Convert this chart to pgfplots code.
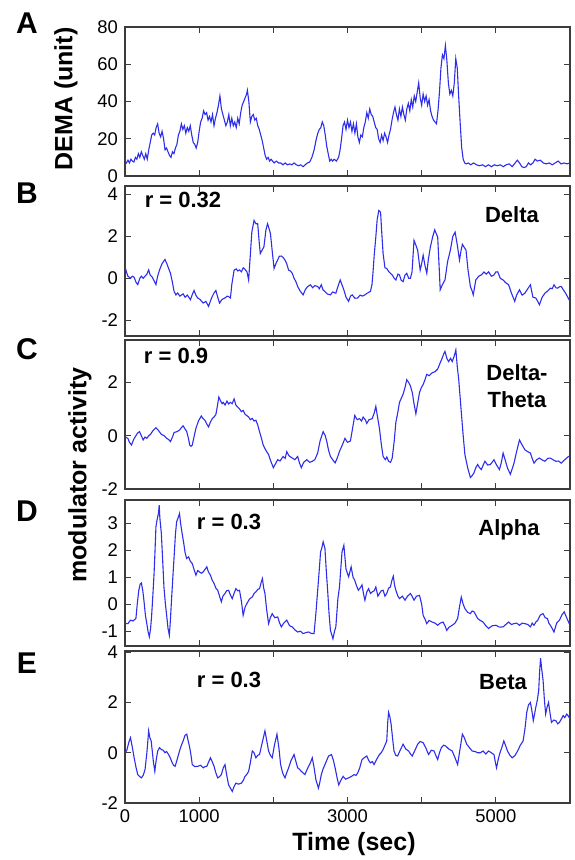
\documentclass[border=0pt]{standalone}
\usepackage{pgfplots}
\pgfplotsset{compat=1.18}
\usepackage{fontspec}
\setmainfont{Liberation Sans}
\definecolor{tracecol}{RGB}{45,45,235}
\definecolor{framecol}{RGB}{60,60,60}
\pgfplotsset{
  panel/.style={
    scale only axis, width=222.5pt, xmin=0, xmax=6000,
    xtick={0,1000,...,6000}, xticklabels={},
    axis line style={framecol, line width=0.7pt},
    every tick/.style={framecol, line width=0.6pt},
    major tick length=3pt,
    tick label style={font=\fontsize{9.2}{9.2}\selectfont},
    anchor=north west,
  },
  sig/.style={tracecol, line width=0.55pt, no marks}
}
\newcommand{\ann}{\fontsize{11}{13}\selectfont\bfseries}
\newcommand{\plet}{\fontsize{15}{17}\selectfont\bfseries}
\newcommand{\lab}{\fontsize{12.5}{14}\selectfont\bfseries}
\begin{document}
\begin{tikzpicture}
\useasboundingbox (0,0) rectangle (287pt,-430pt);
% ---------------- A
\begin{axis}[panel, at={(62.5pt,-13.5pt)}, height=74.5pt, ymin=0, ymax=80,
  ytick={0,20,40,60,80}, yticklabels={0,20,40,60,80}]
\addplot[sig] table {
0 8
20 7
40 8.5
60 7
80 9
100 8
120 7.5
140 10
160 9
180 12
200 10
220 13
240 11
260 9
280 12
300 9
320 14
340 18
360 22
380 23
400 22
420 26
440 28
460 23
480 21
500 24
520 20
540 14
560 15
580 13
600 11
620 10
640 13
660 12
680 15
700 17
720 22
740 24
760 28
780 25
800 27
820 23
840 26
860 24
880 27
900 22
920 18
940 17
960 15
980 18
1000 24
1020 29
1040 31
1060 35
1080 33
1100 34
1120 30
1140 32
1160 29
1180 33
1200 27
1220 31
1240 34
1260 38
1280 43
1300 36
1320 33
1340 30
1360 27
1380 29
1400 33
1420 27
1440 31
1460 27
1480 29
1500 26
1520 31
1540 28
1560 34
1580 38
1600 40
1620 42
1640 44
1650 46
1670 40
1690 29
1710 32
1730 33
1750 30
1770 31
1790 27
1810 25
1830 22
1850 19
1870 15
1890 11
1910 9
1930 10
1950 8
1970 9
1990 8
2010 7
2040 8
2070 7
2100 7
2130 6
2160 7
2190 6
2220 6.5
2250 6
2280 7
2310 6
2340 5.5
2370 6
2400 5
2430 6
2460 7
2490 7.5
2520 10
2550 14
2580 20
2600 23
2620 25
2640 26
2660 29
2680 27
2700 22
2720 16
2740 12
2760 8
2780 9
2800 8
2820 9
2850 8
2880 10
2900 14
2920 20
2940 27
2960 29
2980 25
3000 30
3020 26
3040 29
3060 24
3080 28
3100 23
3120 28
3140 21
3160 18
3180 22
3200 21
3220 26
3240 29
3260 34
3280 31
3300 36
3320 33
3340 32
3360 29
3380 26
3400 25
3420 20
3440 18
3460 22
3480 19
3500 23
3520 21
3540 18
3560 22
3580 25
3600 30
3620 34
3640 37
3660 33
3680 30
3700 36
3720 32
3740 37
3760 33
3780 30
3800 36
3820 39
3840 35
3860 41
3880 37
3900 43
3920 40
3940 45
3960 50
3980 42
4000 38
4020 44
4040 40
4060 43
4080 38
4100 41
4120 35
4140 32
4160 30
4180 29
4200 28
4220 35
4240 45
4260 58
4280 65
4300 63
4320 70
4340 62
4360 50
4380 44
4400 46
4420 43
4440 50
4460 63
4480 58
4500 42
4520 28
4540 15
4560 9
4580 7
4600 6.5
4630 7
4660 6
4700 7
4740 6
4780 5.5
4820 6
4860 5
4900 6
4940 5
4980 6
5020 5.5
5060 6
5100 5
5140 6
5180 6.5
5220 5
5260 7
5290 8.5
5320 7
5350 5
5380 4.5
5410 5
5440 7
5470 6
5500 7
5530 9
5560 8
5600 8.5
5640 7
5680 6.5
5720 7
5760 6
5800 7
5840 8
5880 6.5
5920 7
5960 6.5
6000 7
};
\end{axis}
% ---------------- B
\begin{axis}[panel, at={(62.5pt,-93pt)}, height=75pt, ymin=-2.75, ymax=4.4,
  ytick={-2,0,2,4}, yticklabels={-2,0,2,4}]
\addplot[sig] table {
0 0.55
20 0.3
39 0.1
60 0.05
74 0
100 0.1
123 0.05
150 -0.2
172 -0.3
200 0
221 0.1
245 0
270 0.1
295 0.2
319 0.4
340 0.15
368 0.05
390 -0.1
417 -0.3
440 0.1
466 0.4
500 0.7
539 0.9
564 0.7
590 0.45
613 0.24
640 -0.2
660 -0.6
686 -0.79
710 -0.7
740 -0.85
784 -0.74
810 -0.9
840 -0.8
882 -1.02
910 -0.75
931 -0.58
955 -0.8
980 -0.94
1010 -1.0
1054 -1.18
1090 -1.1
1127 -1.34
1150 -1.1
1176 -0.87
1200 -0.7
1225 -0.58
1250 -0.9
1275 -1.18
1310 -1.0
1348 -0.94
1375 -0.85
1397 -0.87
1422 -0.94
1440 -0.3
1471 0.39
1500 0.45
1520 0.35
1545 0.4
1569 0.31
1595 0.5
1618 0.43
1645 0.3
1667 -0.08
1680 0.6
1691 1.18
1710 2.2
1740 2.76
1765 2.6
1789 2.6
1810 1.7
1824 1.18
1850 1.35
1873 1.5
1900 2.3
1922 2.6
1940 2.4
1961 2.13
1985 1.3
2010 0.47
2035 0.7
2059 0.87
2080 1.05
2108 1.06
2130 1.0
2157 0.87
2180 0.7
2206 0.39
2230 0.35
2255 0.24
2280 0.0
2304 -0.16
2330 -0.4
2360 -0.6
2402 -0.79
2430 -0.55
2460 -0.4
2500 -0.31
2530 -0.45
2560 -0.35
2598 -0.39
2620 -0.5
2647 -0.31
2670 -0.55
2696 -0.63
2730 -0.75
2770 -0.79
2800 -0.65
2843 -0.71
2870 -0.4
2902 -0.08
2925 -0.3
2951 -0.55
2980 -0.9
3015 -1.1
3040 -0.85
3064 -0.79
3100 -0.95
3137 -0.94
3170 -0.8
3200 -0.85
3235 -0.79
3270 -0.7
3309 -0.63
3330 -0.3
3343 0.24
3360 1.1
3382 1.97
3400 2.8
3422 3.23
3446 3.15
3465 2.0
3480 1.18
3505 0.5
3529 0.47
3560 0.3
3603 0.16
3630 0.0
3652 -0.08
3680 0.2
3701 0.16
3725 -0.1
3750 -0.16
3775 0.15
3799 0.24
3825 0.0
3848 0.0
3870 0.3
3897 1.81
3920 1.6
3946 1.34
3965 0.8
3980 0.39
4000 0.7
4020 1.1
4045 0.6
4069 0.24
4090 0.9
4118 1.5
4150 2.0
4176 2.31
4200 2.1
4216 1.97
4235 0.6
4250 -0.55
4280 -0.3
4314 -0.08
4350 0.8
4387 1.34
4420 2.0
4451 2.2
4480 1.6
4510 0.87
4530 1.3
4549 1.62
4570 1.5
4598 1.34
4625 0.4
4657 -0.39
4680 -0.6
4696 -0.79
4730 -0.08
4770 0.1
4804 0.16
4840 0.3
4870 0.2
4902 0.31
4940 0.1
4975 0.16
5000 0.3
5025 0.31
5060 0.0
5098 -0.08
5130 -0.2
5172 -0.31
5210 -0.7
5255 -1.1
5280 -0.8
5319 -0.55
5355 -0.8
5392 -0.71
5430 -0.5
5466 -0.31
5500 -0.9
5539 -0.94
5565 -1.1
5588 -1.26
5625 -0.9
5662 -0.71
5700 -0.6
5735 -0.47
5760 -0.5
5784 -0.31
5810 -0.45
5833 -0.47
5860 -0.4
5882 -0.39
5910 -0.55
5941 -0.71
5970 -0.9
6000 -1.1
};
\end{axis}
% ---------------- C
\begin{axis}[panel, at={(62.5pt,-170pt)}, height=74.5pt, ymin=-2, ymax=3.59,
  ytick={-2,0,2}, yticklabels={-2,0,2}]
\addplot[sig] table {
0 -0.05
39 -0.1
60 -0.25
88 -0.35
115 -0.15
147 0
170 0.1
196 0.15
220 0.0
245 -0.16
270 -0.05
294 -0.1
320 0.0
343 0.05
380 0.2
417 0.3
450 0.2
490 0.05
525 0.0
564 -0.1
590 -0.15
613 -0.22
640 -0.05
662 0.12
700 0.15
735 0.21
760 0.3
784 0.37
810 0.25
833 0.15
855 -0.1
873 -0.35
890 -0.4
907 -0.35
930 -0.05
956 0.27
990 0.55
1029 0.74
1050 0.65
1078 0.58
1100 0.45
1127 0.33
1150 0.5
1176 0.64
1200 0.7
1225 0.79
1245 1.1
1265 1.45
1290 1.3
1310 1.2
1324 1.25
1350 1.15
1375 1.3
1397 1.19
1420 1.25
1445 1.2
1471 1.38
1495 1.15
1520 1.07
1545 1.0
1570 0.9
1593 0.95
1620 0.8
1645 0.75
1667 0.7
1690 0.6
1715 0.65
1740 0.55
1765 0.58
1790 0.4
1814 0.15
1840 -0.1
1863 -0.35
1890 -0.5
1910 -0.6
1936 -0.71
1965 -0.95
2000 -1.2
2030 -1.05
2059 -0.9
2090 -0.95
2132 -0.78
2160 -0.85
2181 -0.6
2210 -0.75
2255 -0.84
2290 -0.9
2328 -0.78
2350 -1.0
2377 -1.2
2410 -1.0
2451 -0.9
2490 -1.0
2525 -0.96
2560 -0.9
2598 -0.65
2630 -0.2
2672 0.15
2700 0.0
2721 -0.22
2745 -0.55
2770 -0.78
2800 -0.9
2833 -1.02
2860 -0.85
2892 -0.59
2930 -0.35
2966 -0.1
3000 -0.25
3039 -0.2
3070 0.3
3098 0.76
3130 0.6
3162 0.64
3190 0.55
3211 0.7
3240 0.6
3260 0.46
3290 0.6
3333 0.64
3360 0.85
3382 1.1
3405 0.7
3431 0.27
3455 -0.3
3480 -0.78
3510 -0.9
3530 -0.8
3554 -0.96
3580 -1.0
3603 -0.84
3630 -0.2
3652 0.5
3680 0.9
3701 1.25
3725 1.4
3750 1.56
3775 1.8
3799 2.1
3825 2.0
3848 1.87
3875 1.6
3897 1.2
3922 0.82
3945 1.2
3971 1.62
3995 1.8
4020 1.92
4045 2.1
4069 2.3
4100 2.25
4142 2.36
4180 2.4
4216 2.5
4245 2.7
4275 2.9
4295 3.05
4314 3.16
4340 2.9
4363 2.78
4390 2.9
4412 2.78
4440 3.0
4461 3.22
4480 2.6
4500 2.1
4534 0.9
4560 0.0
4583 -0.71
4620 -1.2
4657 -1.57
4680 -1.5
4706 -1.39
4730 -1.2
4755 -1.08
4780 -1.2
4804 -1.27
4830 -1.1
4853 -0.96
4890 -1.1
4926 -1.08
4950 -1.0
4975 -0.9
5010 -1.1
5049 -1.27
5075 -1.0
5098 -0.65
5125 -0.9
5157 -1.21
5180 -1.35
5196 -1.45
5220 -1.25
5245 -1.03
5280 -0.6
5319 -0.16
5355 -0.35
5392 -0.53
5430 -0.6
5466 -0.65
5490 -0.85
5515 -1.03
5550 -0.9
5588 -0.84
5620 -0.9
5662 -0.96
5700 -0.85
5735 -0.84
5770 -0.9
5809 -0.96
5845 -0.95
5882 -1.03
5930 -0.9
5980 -0.78
6000 -0.8
};
\end{axis}
% ---------------- D
\begin{axis}[panel, at={(62.5pt,-250pt)}, height=73pt, ymin=-1.55, ymax=3.87,
  ytick={-1,0,1,2,3}, yticklabels={-1,0,1,2,3}]
\addplot[sig] table {
0 -0.72
39 -0.72
74 -0.59
108 -0.62
147 -0.53
165 0.0
186 0.52
205 0.75
221 0.79
240 0.5
255 0.15
275 -0.4
294 -0.72
310 -1.0
328 -1.21
345 -0.9
358 -0.47
375 0.3
392 1.14
405 2.0
417 2.87
430 3.1
441 3.24
452 3.4
461 3.68
470 3.2
490 2.63
505 1.8
525 0.64
545 0.0
564 -0.47
580 -0.9
598 -1.15
612 -0.6
627 0.15
645 1.0
662 1.76
680 2.6
696 3.06
715 3.2
735 3.37
750 3.0
770 2.63
790 2.3
809 1.94
830 1.7
858 1.76
880 1.6
907 1.51
930 1.3
956 1.08
980 1.25
1005 1.2
1030 1.15
1054 1.2
1080 1.3
1103 1.39
1125 1.2
1152 1.08
1175 0.9
1201 0.77
1225 0.6
1250 0.52
1275 0.3
1299 0.09
1320 0.3
1348 0.4
1370 0.5
1397 0.52
1420 0.35
1446 0.21
1470 0.4
1495 0.58
1520 0.5
1544 0.52
1570 0.1
1593 -0.41
1620 -0.1
1642 0.02
1680 0.2
1716 0.27
1740 0.4
1765 0.46
1790 0.55
1814 0.58
1835 0.8
1853 0.95
1870 0.6
1887 0.4
1910 -0.2
1936 -0.72
1960 -0.5
1985 -0.35
2020 -0.5
2059 -0.47
2085 -0.7
2108 -0.84
2140 -0.7
2181 -0.59
2220 -0.8
2255 -0.84
2290 -0.95
2328 -1.03
2365 -1.0
2402 -1.09
2440 -1.05
2475 -1.03
2510 -1.08
2549 -1.09
2575 -0.3
2598 0.52
2620 1.3
2637 1.94
2655 2.1
2672 2.32
2696 2.07
2715 1.2
2735 0.4
2750 -0.3
2770 -0.97
2804 -1.28
2825 -1.0
2843 -0.84
2870 0.2
2892 0.64
2926 1.94
2951 2.19
2980 1.3
3015 1.02
3049 1.39
3075 1.0
3098 0.89
3120 0.7
3147 0.52
3170 0.6
3196 0.72
3215 0.4
3235 0.15
3260 0.45
3284 0.58
3310 0.4
3333 0.46
3360 0.5
3382 0.64
3410 0.3
3431 0.4
3455 0.5
3480 0.52
3505 0.3
3529 0.4
3555 0.6
3578 0.64
3600 0.9
3618 1.04
3635 0.7
3652 0.52
3680 0.3
3701 0.21
3740 0.3
3775 0.15
3810 0.3
3848 0.4
3870 0.3
3897 0.15
3930 0.3
3971 0.33
4000 0.0
4020 -0.41
4045 -0.55
4069 -0.72
4100 -0.6
4142 -0.66
4180 -0.7
4216 -0.78
4250 -0.7
4289 -0.66
4315 -0.8
4338 -0.97
4370 -0.85
4412 -0.78
4450 -0.7
4485 -0.53
4510 -0.1
4534 0.27
4560 0.0
4583 -0.16
4620 -0.3
4657 -0.35
4680 -0.25
4706 -0.28
4730 -0.4
4755 -0.53
4790 -0.6
4828 -0.66
4865 -0.8
4902 -0.9
4950 -0.8
5000 -0.78
5050 -0.85
5098 -0.84
5135 -0.75
5172 -0.66
5210 -0.75
5245 -0.72
5280 -0.7
5319 -0.78
5355 -0.7
5392 -0.72
5430 -0.75
5466 -0.84
5490 -0.7
5515 -0.78
5540 -0.66
5564 -0.6
5600 -0.4
5637 -0.35
5665 -0.5
5696 -0.53
5715 -0.7
5735 -0.78
5760 -0.9
5784 -1.03
5820 -0.7
5858 -0.59
5890 -0.4
5922 -0.28
5955 -0.5
5990 -0.72
};
\end{axis}
% ---------------- E
\begin{axis}[panel, at={(62.5pt,-325.5pt)}, height=76pt, ymin=-2, ymax=4.05,
  ytick={-2,0,2,4}, yticklabels={-2,0,2,4},
  xticklabels={0,1000,{},3000,{},5000,{}}]
\addplot[sig] table {
0 0
25 0.1
50 0.4
74 0.6
100 0.2
123 -0.2
150 -0.6
172 -0.87
200 -0.95
221 -1.0
245 -0.9
270 -0.67
295 0.0
319 0.87
335 0.6
353 0.47
370 0.0
382 -0.34
402 -0.74
420 -0.3
441 0.07
465 0.2
490 0.13
515 0.1
539 0
560 0.05
588 -0.07
610 -0.2
637 -0.4
655 -0.5
676 -0.54
700 -0.3
735 0.07
760 0.3
784 0.47
810 0.7
833 0.74
850 0.5
873 0.2
890 -0.1
907 -0.47
940 -0.55
980 -0.54
1020 -0.5
1054 -0.6
1080 -0.55
1103 -0.54
1130 -0.35
1152 -0.2
1175 -0.35
1201 -0.54
1225 -0.8
1250 -1.0
1275 -0.95
1299 -0.87
1325 -0.6
1348 -0.47
1372 -0.9
1397 -1.28
1420 -1.4
1446 -1.54
1470 -1.35
1495 -1.21
1530 -1.25
1569 -1.21
1595 -1.1
1618 -0.94
1645 -0.85
1667 -0.74
1690 -0.4
1716 0.07
1740 0.0
1765 -0.2
1790 -0.1
1814 -0.07
1850 0.4
1887 0.87
1910 0.5
1936 0.07
1960 -0.1
1985 -0.2
2015 0.3
2049 0.74
2075 0.2
2098 -0.47
2125 -0.8
2157 -1.0
2180 -0.8
2206 -0.6
2240 -0.3
2279 -0.07
2300 -0.3
2328 -0.6
2350 -0.65
2377 -0.74
2400 -0.8
2426 -0.87
2450 -0.7
2475 -0.54
2500 -0.4
2525 -0.2
2550 -0.6
2574 -1.07
2608 -1.41
2625 -1.2
2647 -0.87
2670 -0.65
2696 -0.47
2720 -0.3
2745 -0.13
2784 -0.07
2810 -0.3
2833 -0.6
2860 -1.0
2882 -1.28
2910 -1.1
2941 -0.94
2975 -1.05
3015 -1.0
3050 -0.95
3088 -0.87
3115 -0.9
3137 -0.81
3165 -0.6
3196 -0.27
3225 -0.2
3260 -0.13
3285 -0.3
3309 -0.4
3335 -0.35
3358 -0.47
3395 -0.25
3431 -0.07
3455 0.0
3480 0.13
3505 0.3
3529 0.47
3542 1.2
3554 1.61
3570 1.45
3588 1.14
3607 0.6
3627 0.07
3650 -0.1
3676 -0.13
3710 0.1
3750 0.34
3785 0.15
3824 0.07
3850 -0.05
3873 -0.13
3910 0.1
3946 0.34
3980 0.45
4020 0.4
4055 0.2
4093 -0.07
4130 0.1
4167 0.07
4190 -0.1
4216 -0.27
4240 0.0
4265 0.2
4295 0.3
4324 0.27
4365 0.15
4412 0.07
4450 -0.2
4485 -0.47
4520 0.2
4549 0.74
4575 0.6
4608 0.34
4645 0.2
4681 0.07
4720 0.05
4755 0
4790 0.0
4828 0.07
4865 -0.05
4902 0.07
4940 0.0
4975 -0.07
4995 -0.4
5010 -0.6
5030 -0.3
5049 -0.07
5080 0.2
5108 0.47
5130 0.3
5157 0.07
5190 -0.1
5221 -0.2
5260 -0.1
5294 0.07
5330 0.3
5368 0.47
5395 1.0
5417 1.61
5440 1.9
5466 2.0
5485 1.7
5505 1.28
5520 1.5
5539 1.81
5560 2.1
5578 2.48
5590 3.2
5603 3.76
5620 3.3
5637 2.89
5655 2.1
5672 1.54
5690 1.8
5711 2.0
5730 1.6
5750 1.21
5780 1.3
5809 1.28
5835 1.15
5858 1.21
5885 1.35
5907 1.48
5930 1.4
5956 1.54
5980 1.45
6000 1.34
};
\end{axis}
% ---------------- labels and annotations
\node[font=\plet] at (13.5pt,-11.5pt) {A};
\node[font=\plet] at (13.5pt,-96.5pt) {B};
\node[font=\plet] at (13.5pt,-174.5pt) {C};
\node[font=\plet] at (13.5pt,-255.5pt) {D};
\node[font=\plet] at (13.5pt,-331.5pt) {E};
\node[font=\lab, rotate=90] at (33pt,-49.5pt) {DEMA (unit)};
\node[font=\lab, rotate=90] at (40pt,-237.5pt) {modulator activity};
\node[font=\lab] at (177pt,-422pt) {Time (sec)};
\node[font=\ann] at (91.5pt,-100pt) {r = 0.32};
\node[font=\ann] at (256pt,-107.5pt) {Delta};
\node[font=\ann] at (88pt,-178pt) {r = 0.9};
\node[font=\ann] at (258.5pt,-186.5pt) {Delta-};
\node[font=\ann] at (258.5pt,-200pt) {Theta};
\node[font=\ann] at (114.5pt,-261pt) {r = 0.3};
\node[font=\ann] at (254.5pt,-265pt) {Alpha};
\node[font=\ann] at (114.5pt,-340pt) {r = 0.3};
\node[font=\ann] at (251.5pt,-341pt) {Beta};
\end{tikzpicture}
\end{document}
